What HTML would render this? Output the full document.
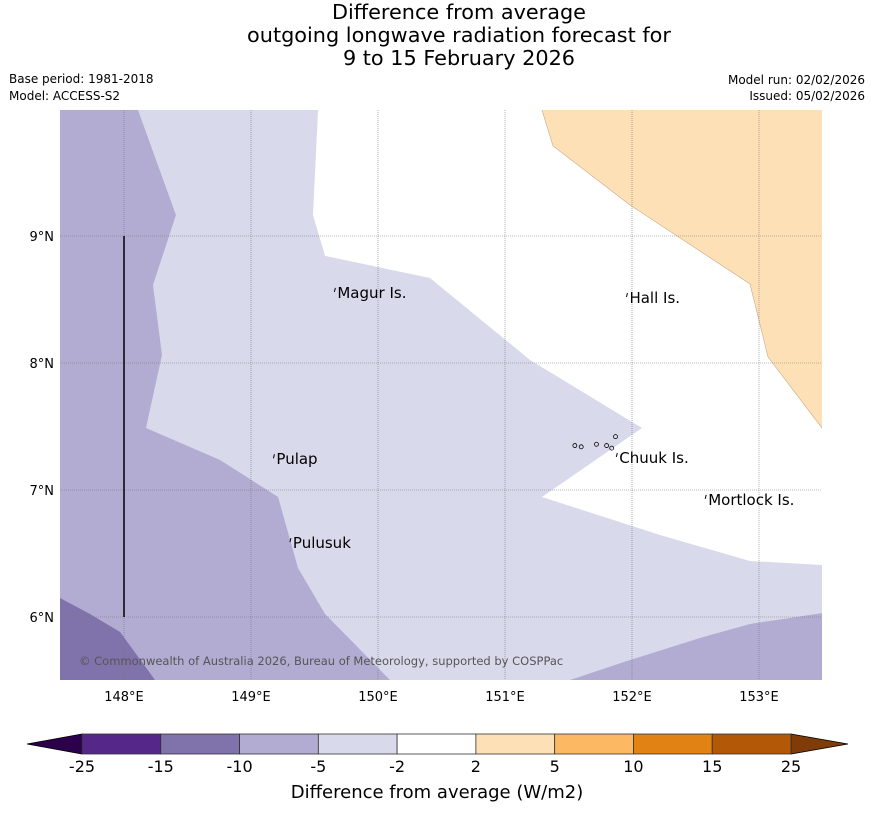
<!DOCTYPE html>
<html><head><meta charset="utf-8"><style>
body{margin:0;background:#fff;font-family:"Liberation Sans","DejaVu Sans",sans-serif}
svg text{font-family:"DejaVu Sans","Liberation Sans",sans-serif}
</style></head><body>
<svg id="c" width="873" height="816">
<text x="459" y="19" font-size="20.8" text-anchor="middle">Difference from average</text>
<text x="459" y="42" font-size="20.8" text-anchor="middle">outgoing longwave radiation forecast for</text>
<text x="459" y="65" font-size="20.8" text-anchor="middle">9 to 15 February 2026</text>
<text x="9" y="83" font-size="12">Base period: 1981-2018</text>
<text x="9" y="100" font-size="12">Model: ACCESS-S2</text>
<text x="865" y="84" font-size="12" text-anchor="end">Model run: 02/02/2026</text>
<text x="865" y="100" font-size="12" text-anchor="end">Issued: 05/02/2026</text>
<g id="map"></g>
<g id="cbar"></g>
</svg>
<script>
const lonMin=147.496, lonMax=153.496, latMin=5.504, latMax=9.992;
const X0=60,X1=822,Y0=110,Y1=680;
const levels=[-25,-15,-10,-5,-2,2,5,10,15,25];
const levelColors=["#542788","#8073ac","#b2abd2","#d8daeb","#ffffff","#fee0b6","#fdb863","#e08214","#b35806"];
const lonTicks=[148,149,150,151,152,153];
const latTicks=[6,7,8,9];
// contour regions in [lon,lat]
const regionLight=[[147.496,9.992],[153.496,9.992],[153.496,5.504],[147.496,5.504]];
const regionMid=[[147.496,9.992],[148.110,9.992],[148.409,9.165],[148.228,8.614],[148.299,8.063],[148.173,7.488],[148.756,7.236],[149.213,6.945],[149.370,6.386],[149.583,6.024],[150.094,5.504],[147.496,5.504]];
const regionMid2=[[151.512,5.504],[151.984,5.661],[152.535,5.835],[152.929,5.945],[153.496,6.031],[153.496,5.504]];
const regionDark=[[147.496,6.150],[147.732,6.024],[147.969,5.882],[148.244,5.504],[147.496,5.504]];
const regionWhite=[[149.528,9.992],[149.488,9.165],[149.583,8.843],[150.409,8.669],[151.197,8.024],[152.079,7.488],[151.291,6.945],[152.220,6.646],[152.929,6.441],[153.496,6.409],[153.496,7.488],[153.071,8.047],[152.929,8.622],[151.984,9.244],[151.378,9.709],[151.291,9.992]];
const regionOrange=[[151.291,9.992],[151.378,9.709],[151.984,9.244],[152.929,8.622],[153.071,8.047],[153.496,7.488],[153.496,9.992]];
const places=[["Magur Is.",149.68,8.56],["Hall Is.",151.98,8.52],["Pulap",149.2,7.25],["Chuuk Is.",151.9,7.26],["Mortlock Is.",152.6,6.93],["Pulusuk",149.33,6.59]];
const sx=l=>X0+(l-lonMin)/(lonMax-lonMin)*(X1-X0);
const sy=l=>Y0+(latMax-l)/(latMax-latMin)*(Y1-Y0);
const NS="http://www.w3.org/2000/svg";
const map=document.getElementById('map');
function mk(t,a,p){const e=document.createElementNS(NS,t);for(const k in a)e.setAttribute(k,a[k]);(p||map).appendChild(e);return e;}
function poly(pts,fill,name){const e=mk('polygon',{points:pts.map(p=>sx(p[0])+','+sy(p[1])).join(' '),fill:fill});

}
poly(regionLight,"#d8daeb","region-minus2-to-minus5");
poly(regionMid,"#b2abd2","region-minus5-to-minus10-west");
poly(regionMid2,"#b2abd2","region-minus5-to-minus10-south");
poly(regionDark,"#8073ac","region-minus10-to-minus15");
poly(regionWhite,"#ffffff","region-near-average");
poly(regionOrange,"#fee0b6","region-2-to-5");
mk('polyline',{points:regionOrange.slice(0,6).map(p=>sx(p[0])+','+sy(p[1])).join(' '),fill:'none',stroke:'#c9a98a','stroke-width':0.6});
lonTicks.forEach(l=>{const g=mk('line',{x1:sx(l),x2:sx(l),y1:Y0,y2:Y1,stroke:'#777','stroke-width':0.6,'stroke-dasharray':'1,1'});

const t=mk('text',{x:sx(l),y:Y1+21,'font-size':13,'text-anchor':'middle'});t.textContent=l+'°E';
});
latTicks.forEach(l=>{const g=mk('line',{x1:X0,x2:X1,y1:sy(l),y2:sy(l),stroke:'#777','stroke-width':0.6,'stroke-dasharray':'1,1'});

const t=mk('text',{x:X0-6,y:sy(l)+5,'font-size':13,'text-anchor':'end'});t.textContent=l+'°N';
});
const vl=mk('line',{x1:sx(148),x2:sx(148),y1:sy(9),y2:sy(6),stroke:'#000','stroke-width':1.5});

places.forEach(p=>{mk('path',{d:`M${sx(p[1])-2},${sy(p[2])-4} l-1,4`,stroke:'#000','stroke-width':1});
const t=mk('text',{x:sx(p[1]),y:sy(p[2])+6,'font-size':15});t.textContent=p[0];
});
[[151.55,7.35],[151.6,7.34],[151.72,7.36],[151.8,7.35],[151.84,7.33],[151.87,7.42]].forEach(p=>mk('circle',{cx:sx(p[0]),cy:sy(p[1]),r:2,fill:'none',stroke:'#000','stroke-width':0.8}));
const cp=mk('text',{x:79,y:665,'font-size':11.5,fill:'#555'});cp.textContent='© Commonwealth of Australia 2026, Bureau of Meteorology, supported by COSPPac';

// colorbar
const cb=document.getElementById('cbar');
const cbx0=82,cbx1=791,cby=734,cbh=20,sw=(cbx1-cbx0)/levelColors.length;
const lt=mk('polygon',{points:`${cbx0},${cby} 27,${cby+cbh/2} ${cbx0},${cby+cbh}`,fill:'#2d004b',stroke:'#000','stroke-width':0.8},cb);

const rt=mk('polygon',{points:`${cbx1},${cby} 848,${cby+cbh/2} ${cbx1},${cby+cbh}`,fill:'#7f3b08',stroke:'#000','stroke-width':0.8},cb);

levelColors.forEach((c,i)=>{const r=mk('rect',{x:cbx0+i*sw,y:cby,width:sw,height:cbh,fill:c,stroke:'#333','stroke-width':0.8},cb);
});
levels.forEach((v,i)=>{const t=mk('text',{x:cbx0+i*sw,y:772,'font-size':16,'text-anchor':'middle'},cb);t.textContent=v;
});
const ct=mk('text',{x:437,y:798,'font-size':18,'text-anchor':'middle'},cb);ct.textContent='Difference from average (W/m2)';

</script>
</body></html>
